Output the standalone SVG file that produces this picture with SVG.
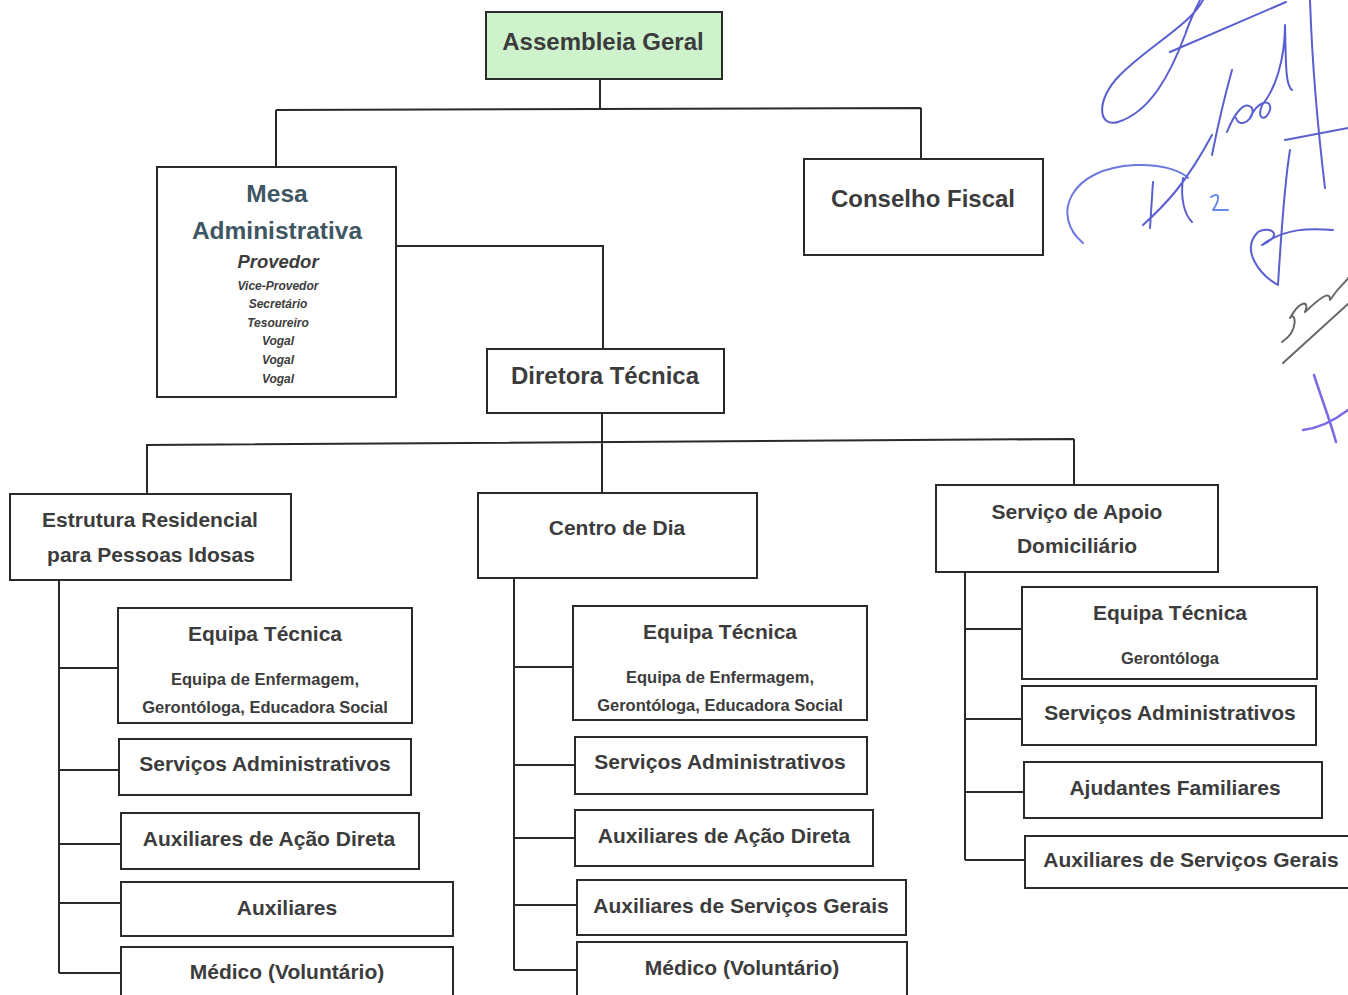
<svg xmlns="http://www.w3.org/2000/svg" width="1348" height="995" viewBox="0 0 1348 995">
<style>
.box{fill:#ffffff;stroke:#2a2a2a;stroke-width:2}
.green{fill:#cdf2cc}
.t{font-family:"Liberation Sans",Arial,sans-serif;font-weight:bold;fill:#3c3c3c;text-anchor:middle}
.big{font-size:24px}
.lbl{font-size:21px}
.sub{font-size:16.5px}
.mesa{font-size:24.5px;fill:#3f5763}
.pv{font-size:18.5px;font-style:italic}
.sm{font-size:12px;font-style:italic}
.conn{fill:none;stroke:#2a2a2a;stroke-width:2}
.sig{fill:none;stroke:#5a5fd0;stroke-width:2;stroke-linecap:round;stroke-linejoin:round}
</style>
<rect width="1348" height="995" fill="#ffffff"/>

<g id="connectors">
<path class="conn" d="M600,79 V109 M276,110 L921,108 M276,110 V167 M921,108 V160"/>
<path class="conn" d="M396,246 H603 V349"/>
<path class="conn" d="M602,413 V442 M146,445 L1074,439 M147,445 V494 M602,442 V493 M1074,439 V485"/>
<path class="conn" d="M59,580 V973 M59,668 H118 M59,770 H119 M59,844 H121 M59,903 H121 M59,973 H121"/>
<path class="conn" d="M514,578 V970 M514,667 H573 M514,765 H575 M514,838 H575 M514,905 H577 M514,970 H577"/>
<path class="conn" d="M965,572 V860 M965,629 H1022 M965,719 H1022 M965,792 H1024 M965,860 H1025"/>
</g>

<g id="assembleia">
<rect class="box green" x="486" y="12" width="236" height="67"/>
<text class="t big" x="603" y="50" fill="#333">Assembleia Geral</text>
</g>

<g id="mesa">
<rect class="box" x="157" y="167" width="239" height="230"/>
<text class="t mesa" x="277" y="202">Mesa</text>
<text class="t mesa" x="277" y="239">Administrativa</text>
<text class="t pv" x="278" y="268">Provedor</text>
<text class="t sm" x="278" y="290">Vice-Provedor</text>
<text class="t sm" x="278" y="308">Secretário</text>
<text class="t sm" x="278" y="327">Tesoureiro</text>
<text class="t sm" x="278" y="345">Vogal</text>
<text class="t sm" x="278" y="364">Vogal</text>
<text class="t sm" x="278" y="383">Vogal</text>
</g>

<g id="conselho">
<rect class="box" x="804" y="159" width="239" height="96"/>
<text class="t big" x="923" y="207">Conselho Fiscal</text>
</g>

<g id="diretora">
<rect class="box" x="487" y="349" width="237" height="64"/>
<text class="t big" x="605" y="384">Diretora Técnica</text>
</g>

<g id="erpi">
<rect class="box" x="10" y="494" width="281" height="86"/>
<text class="t lbl" x="150" y="527">Estrutura Residencial</text>
<text class="t lbl" x="151" y="562">para Pessoas Idosas</text>
</g>

<g id="centro">
<rect class="box" x="478" y="493" width="279" height="85"/>
<text class="t lbl" x="617" y="535">Centro de Dia</text>
</g>

<g id="sad">
<rect class="box" x="936" y="485" width="282" height="87"/>
<text class="t lbl" x="1077" y="519">Serviço de Apoio</text>
<text class="t lbl" x="1077" y="553">Domiciliário</text>
</g>

<g id="erpi-equipa">
<rect class="box" x="118" y="608" width="294" height="115"/>
<text class="t lbl" x="265" y="641">Equipa Técnica</text>
<text class="t sub" x="265" y="685">Equipa de Enfermagem,</text>
<text class="t sub" x="265" y="713">Gerontóloga, Educadora Social</text>
</g>
<g id="erpi-admin">
<rect class="box" x="119" y="739" width="292" height="56"/>
<text class="t lbl" x="265" y="771">Serviços Administrativos</text>
</g>
<g id="erpi-aad">
<rect class="box" x="121" y="813" width="298" height="56"/>
<text class="t lbl" x="269" y="846">Auxiliares de Ação Direta</text>
</g>
<g id="erpi-aux">
<rect class="box" x="121" y="882" width="332" height="54"/>
<text class="t lbl" x="287" y="915">Auxiliares</text>
</g>
<g id="erpi-medico">
<rect class="box" x="121" y="947" width="332" height="60"/>
<text class="t lbl" x="287" y="979">Médico (Voluntário)</text>
</g>

<g id="cd-equipa">
<rect class="box" x="573" y="606" width="294" height="114"/>
<text class="t lbl" x="720" y="639">Equipa Técnica</text>
<text class="t sub" x="720" y="683">Equipa de Enfermagem,</text>
<text class="t sub" x="720" y="711">Gerontóloga, Educadora Social</text>
</g>
<g id="cd-admin">
<rect class="box" x="575" y="737" width="292" height="57"/>
<text class="t lbl" x="720" y="769">Serviços Administrativos</text>
</g>
<g id="cd-aad">
<rect class="box" x="575" y="810" width="298" height="56"/>
<text class="t lbl" x="724" y="843">Auxiliares de Ação Direta</text>
</g>
<g id="cd-asg">
<rect class="box" x="577" y="880" width="329" height="55"/>
<text class="t lbl" x="741" y="913">Auxiliares de Serviços Gerais</text>
</g>
<g id="cd-medico">
<rect class="box" x="577" y="942" width="330" height="60"/>
<text class="t lbl" x="742" y="975">Médico (Voluntário)</text>
</g>

<g id="sad-equipa">
<rect class="box" x="1022" y="587" width="295" height="92"/>
<text class="t lbl" x="1170" y="620">Equipa Técnica</text>
<text class="t sub" x="1170" y="664">Gerontóloga</text>
</g>
<g id="sad-admin">
<rect class="box" x="1022" y="686" width="294" height="59"/>
<text class="t lbl" x="1170" y="720">Serviços Administrativos</text>
</g>
<g id="sad-ajud">
<rect class="box" x="1024" y="762" width="298" height="56"/>
<text class="t lbl" x="1175" y="795">Ajudantes Familiares</text>
</g>
<g id="sad-asg">
<rect class="box" x="1025" y="836" width="340" height="52"/>
<text class="t lbl" x="1191" y="867">Auxiliares de Serviços Gerais</text>
</g>

<g id="signatures">
<path class="sig" d="M1203,0 C1190,25 1150,45 1120,75 C1095,100 1098,128 1118,122 C1150,112 1170,75 1185,35 C1190,20 1196,8 1200,0"/>
<path class="sig" d="M1170,52 L1286,2"/>
<path class="sig" d="M1310,0 C1312,60 1318,130 1325,188"/>
<path class="sig" d="M1212,155 C1218,125 1225,95 1232,70 M1227,132 C1235,112 1245,100 1252,108 C1256,118 1240,130 1236,118 M1250,118 C1258,100 1272,98 1270,110 C1266,122 1256,120 1262,105 C1275,90 1285,60 1285,25 C1286,60 1285,85 1292,90"/>
<path class="sig" style="stroke:#6a78e0" d="M1083,243 C1050,215 1070,168 1135,165 C1160,164 1180,170 1188,178"/>
<path class="sig" d="M1153,182 L1150,228 M1143,225 C1165,205 1185,185 1212,135 M1183,178 C1180,200 1185,215 1192,222"/>
<path class="sig" style="stroke:#6a8ae8" d="M1211,197 C1218,192 1222,196 1213,210 L1228,210"/>
<path class="sig" d="M1285,140 L1348,128 M1290,150 C1285,180 1282,220 1278,285 C1260,275 1240,250 1258,232 C1270,225 1285,235 1262,245 C1285,228 1310,228 1333,230"/>
<path class="sig" style="stroke:#666" d="M1282,342 C1300,330 1295,310 1290,318 C1300,300 1310,300 1305,312 C1320,298 1330,290 1330,300 C1340,285 1348,280 1348,278 M1283,363 L1348,304"/>
<path class="sig" style="stroke:#7a6ae6;stroke-width:2.5" d="M1314,375 C1322,400 1330,420 1336,442 M1303,430 C1320,428 1335,420 1348,410"/>
</g>
</svg>
